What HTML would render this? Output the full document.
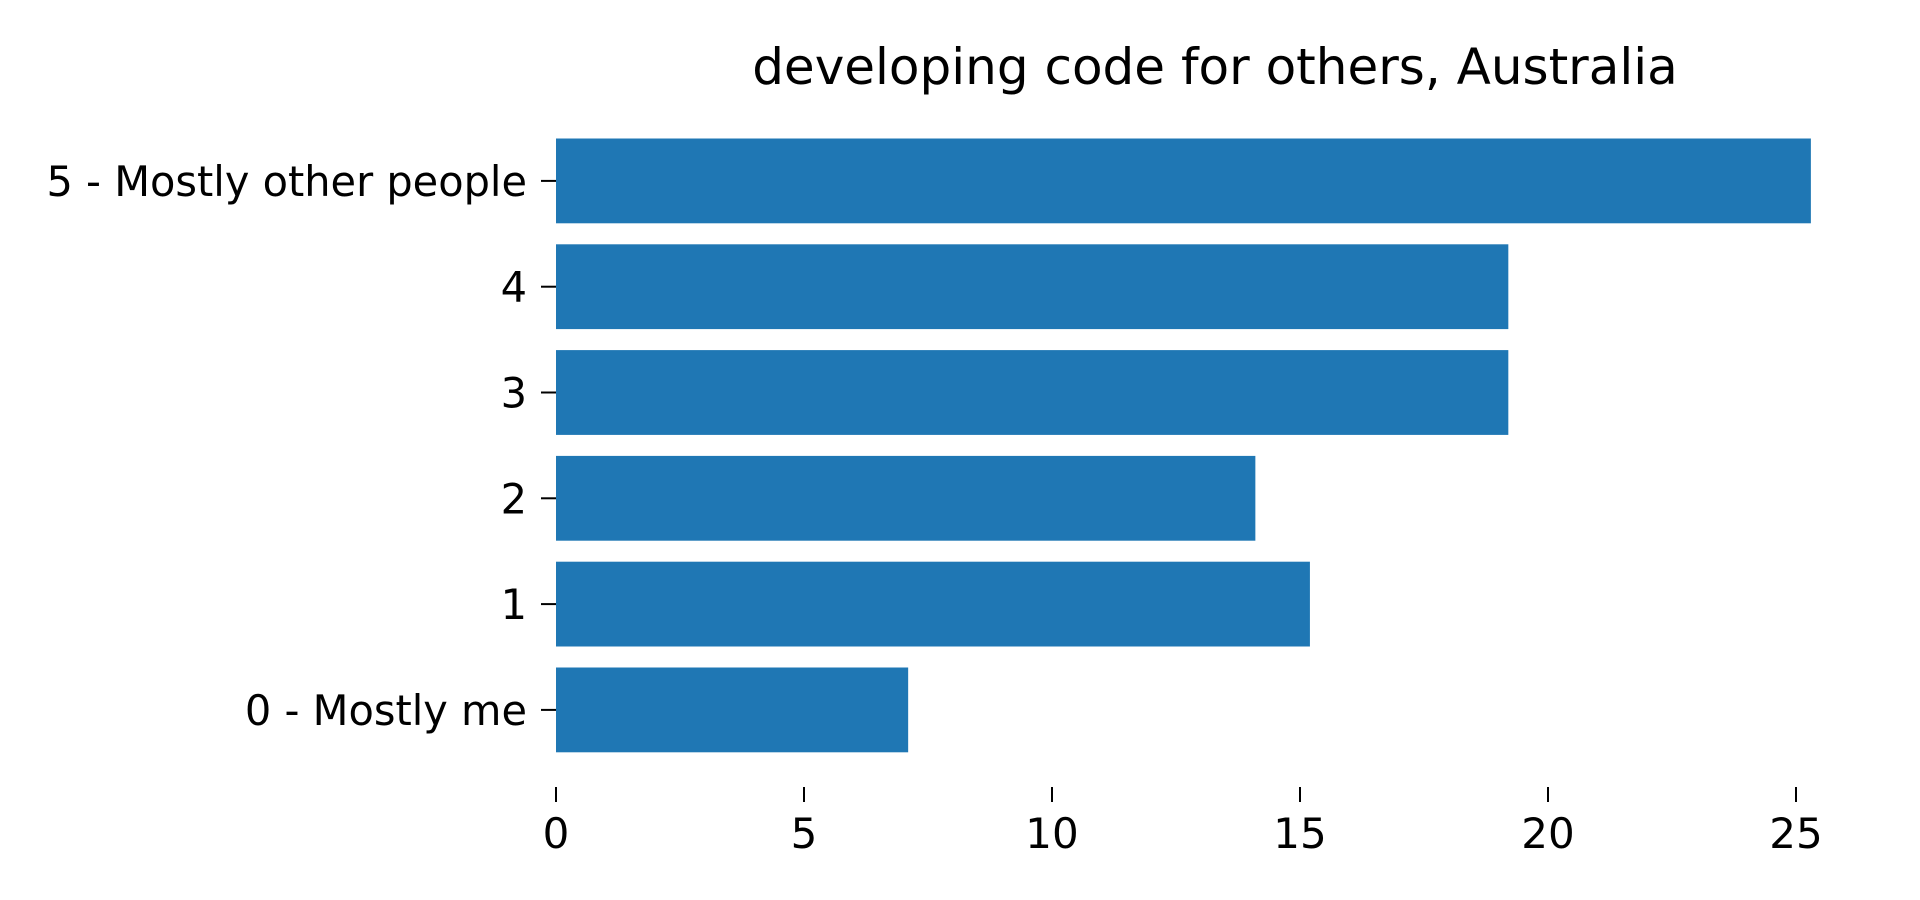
<!DOCTYPE html>
<html><head><meta charset="utf-8"><style>
body{margin:0;background:#fff;}
svg{display:block;font-family:"DejaVu Sans","Liberation Sans",sans-serif;}
</style></head><body>
<svg id="chart" width="1920" height="900">
<text x="1215" y="84" font-size="50" text-anchor="middle">developing code for others, Australia</text>
<g id="bars"></g>
<g id="yaxis"></g>
<g id="xaxis"></g>
</svg>
<script>
const categories = ["5 - Mostly other people","4","3","2","1","0 - Mostly me"];
const values = [25.3,19.2,19.2,14.1,15.2,7.1];
const xTicks = [0,5,10,15,20,25];
const tickLabels = ["0","5","10","15","20","25"];
const NS="http://www.w3.org/2000/svg";
const x0=556, xs=49.6;
const X=v=>x0+v*xs;
const Y=i=>138.5+i*105.8;
const bh=84.8;
const bars=document.getElementById('bars'),ya=document.getElementById('yaxis'),xa=document.getElementById('xaxis');
categories.forEach((c,i)=>{
 const r=document.createElementNS(NS,'rect');
 r.setAttribute('x',X(0));r.setAttribute('y',Y(i));
 r.setAttribute('width',X(values[i])-X(0));r.setAttribute('height',bh);
 r.setAttribute('fill','#1f77b4');
 
 
 bars.appendChild(r);
 const cy=Y(i)+bh/2;
 const t=document.createElementNS(NS,'line');
 t.setAttribute('x1',541);t.setAttribute('x2',556);t.setAttribute('y1',cy);t.setAttribute('y2',cy);
 t.setAttribute('stroke','#000');t.setAttribute('stroke-width','2');
 
 
 ya.appendChild(t);
 const l=document.createElementNS(NS,'text');
 l.setAttribute('x',527);l.setAttribute('y',cy+15);l.setAttribute('font-size','41.5');l.setAttribute('text-anchor','end');
 l.textContent=c;
 
 
 ya.appendChild(l);
});
xTicks.forEach((v,i)=>{
 const t=document.createElementNS(NS,'line');
 t.setAttribute('x1',X(v));t.setAttribute('x2',X(v));t.setAttribute('y1',787);t.setAttribute('y2',802);
 t.setAttribute('stroke','#000');t.setAttribute('stroke-width','2');
 
 
 xa.appendChild(t);
 const l=document.createElementNS(NS,'text');
 l.setAttribute('x',X(v));l.setAttribute('y',848);l.setAttribute('font-size','42');l.setAttribute('text-anchor','middle');
 l.textContent=tickLabels[i];
 
 
 xa.appendChild(l);
});
</script>
</body></html>
